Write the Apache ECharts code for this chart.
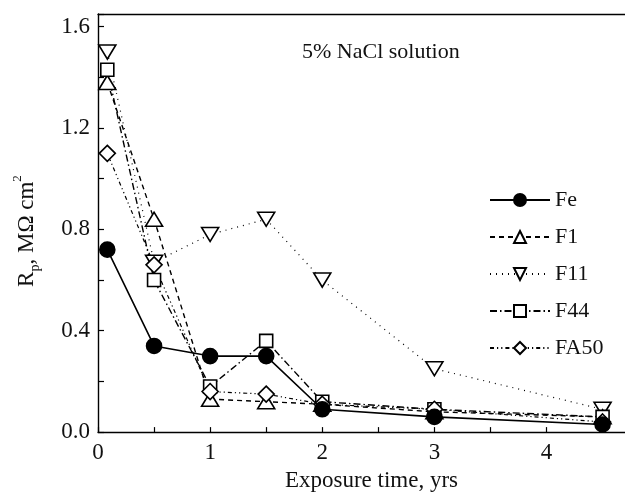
<!DOCTYPE html>
<html>
<head>
<meta charset="utf-8">
<script src="https://cdn.jsdelivr.net/npm/echarts@6/dist/echarts.min.js"></script>
<style>
  html, body { margin: 0; padding: 0; background: #fff; }
  #chart { width: 625px; height: 497px; }
</style>
</head>
<body>
<div id="chart"></div>
<script>
// exposure time (yrs) and Rp (MOhm cm2) per sample
var years = [0.083, 0.5, 1, 1.5, 2, 3, 4.5];
var fe   = [0.72, 0.34, 0.30, 0.30, 0.09, 0.06, 0.03];
var f1   = [1.38, 0.84, 0.13, 0.12, 0.11, 0.08, 0.06];
var f11  = [1.50, 0.67, 0.78, 0.84, 0.60, 0.25, 0.09];
var f44  = [1.43, 0.60, 0.18, 0.36, 0.12, 0.09, 0.06];
var fa50 = [1.10, 0.66, 0.16, 0.15, 0.11, 0.09, 0.04];

var FONT = '"Liberation Serif", "DejaVu Serif", serif';

function pairs(ys) {
  return years.map(function (x, i) { return [x, ys[i]]; });
}

function mkSeries(name, ys, symbol, size, dash, opts) {
  opts = opts || {};
  return {
    name: name,
    type: 'line',
    data: pairs(ys),
    symbol: symbol,
    symbolSize: size,
    symbolRotate: opts.rotate || 0,
    showAllSymbol: true,
    z: opts.z || 2,
    lineStyle: { color: '#000', width: opts.width || 1.4, type: dash },
    itemStyle: {
      color: opts.fill || '#fff',
      borderColor: '#000',
      borderWidth: 1.6
    },
    emphasis: { disabled: true },
    animation: false
  };
}

var chart = echarts.init(document.getElementById('chart'));
chart.setOption({
  backgroundColor: '#fff',
  title: {
    text: '5% NaCl solution',
    left: 297,
    top: 36,
    textStyle: { fontFamily: FONT, fontSize: 22, fontWeight: 'normal', color: '#111' }
  },
  legend: {
    orient: 'vertical',
    left: 484,
    top: 184,
    itemWidth: 60,
    itemHeight: 15,
    itemGap: 15,
    textStyle: { fontFamily: FONT, fontSize: 22, color: '#111' },
    data: ['Fe', 'F1', 'F11', 'F44', 'FA50']
  },
  grid: { left: 98, right: -4, top: 14, bottom: 59 },
  xAxis: [{
    type: 'value',
    min: 0,
    max: 4.7,
    interval: 0.5,
    name: 'Exposure time, yrs',
    nameLocation: 'middle',
    nameGap: 36,
    nameTextStyle: { fontFamily: FONT, fontSize: 23, color: '#111', padding: [0, 0, 0, 20] },
    axisLine: { lineStyle: { color: '#000', width: 1.4 } },
    axisTick: { inside: true, length: 5, lineStyle: { color: '#000', width: 1.2 } },
    axisLabel: {
      fontFamily: FONT, fontSize: 23, color: '#111', margin: 9,
      showMaxLabel: false,
      formatter: function (v) { return Math.abs(v - Math.round(v)) < 1e-6 ? String(Math.round(v)) : ''; }
    },
    splitLine: { show: false }
  }, {
    type: 'value',
    position: 'top',
    min: 0,
    max: 4.7,
    axisLine: { show: true, onZero: false, lineStyle: { color: '#000', width: 1.4 } },
    axisTick: { show: false },
    axisLabel: { show: false },
    splitLine: { show: false }
  }],
  yAxis: {
    type: 'value',
    min: 0,
    max: 1.65,
    interval: 0.2,
    name: '{a|R}{sub|p}{a|, MΩ cm}{sup|2}',
    nameLocation: 'middle',
    nameGap: 56,
    nameRotate: 90,
    nameTextStyle: {
      fontFamily: FONT, color: '#111', padding: [0, 16, 0, 0],
      rich: {
        a: { fontFamily: FONT, fontSize: 23, lineHeight: 31, color: '#111' },
        sub: { fontFamily: FONT, fontSize: 14, verticalAlign: 'bottom', color: '#111' },
        sup: { fontFamily: FONT, fontSize: 13, verticalAlign: 'top', color: '#111' }
      }
    },
    axisLine: { show: true, lineStyle: { color: '#000', width: 1.4 } },
    axisTick: { inside: true, length: 6, lineStyle: { color: '#000', width: 1.2 } },
    axisLabel: {
      fontFamily: FONT, fontSize: 23, color: '#111', margin: 8,
      formatter: function (v) {
        var k = v / 0.4;
        return Math.abs(k - Math.round(k)) < 1e-6 ? v.toFixed(1) : '';
      }
    },
    splitLine: { show: false }
  },
  series: [
    mkSeries('F11', f11, 'triangle', [17, 14], [1, 5], { rotate: 180, width: 1.2 }),
    mkSeries('F1', f1, 'triangle', [17, 14], [5, 4]),
    mkSeries('F44', f44, 'rect', 13, [7, 3, 1.5, 3]),
    mkSeries('FA50', fa50, 'diamond', [16, 16], [4, 3, 1.2, 3, 1.2, 3], { width: 1.2 }),
    mkSeries('Fe', fe, 'circle', 15, 'solid', { fill: '#000', width: 1.6, z: 3 })
  ]
});
</script>
</body>
</html>
